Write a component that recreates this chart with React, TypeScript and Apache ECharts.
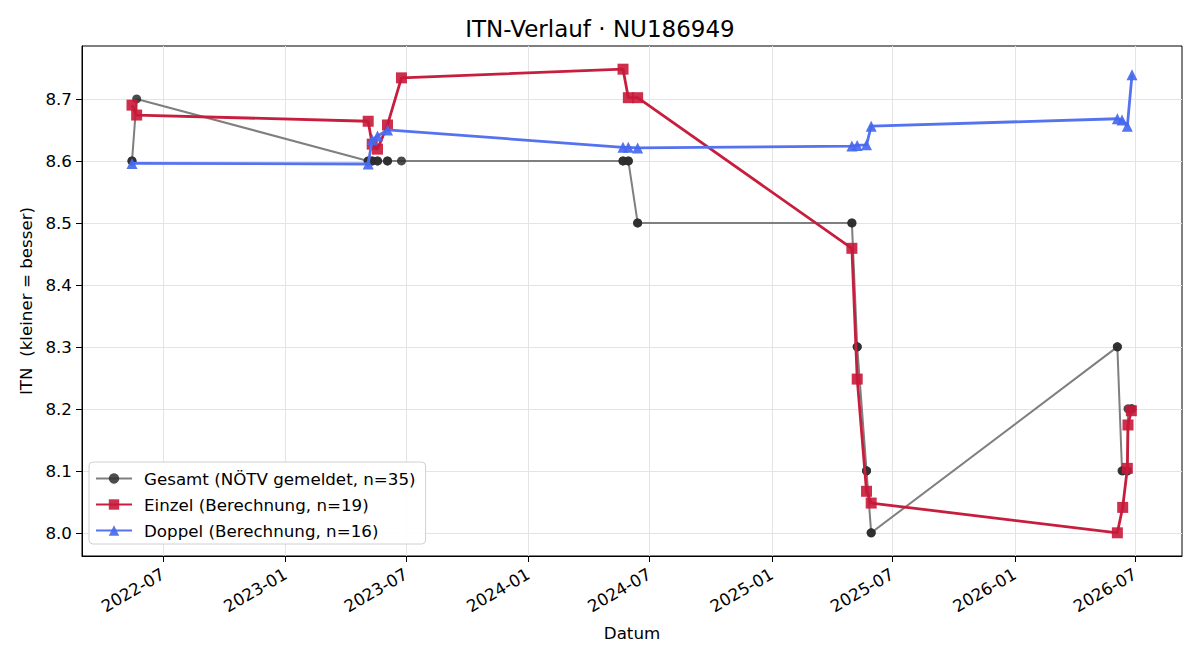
import { useEffect, useRef } from "react";
import * as echarts from "echarts";

// Einzel (singles) computed ITN values
const einzelDates = [
  "2022-05-15", "2022-05-22",
  "2023-05-05", "2023-05-11", "2023-05-19", "2023-06-03", "2023-06-24",
  "2024-05-22", "2024-05-30", "2024-06-13",
  "2025-05-01", "2025-05-09", "2025-05-23", "2025-05-30",
  "2026-06-04", "2026-06-12", "2026-06-19", "2026-06-20", "2026-06-25",
];
const einzelValues = [
  8.69, 8.674,
  8.664, 8.627, 8.619, 8.658, 8.734,
  8.748, 8.702, 8.702,
  8.459, 8.248, 8.067, 8.048,
  8.0, 8.041, 8.104, 8.174, 8.197,
];

// Doppel (doubles) computed ITN values
const doppelDates = [
  "2022-05-15",
  "2023-05-05", "2023-05-11", "2023-05-19", "2023-06-03",
  "2024-05-22", "2024-05-30", "2024-06-13",
  "2025-05-01", "2025-05-09", "2025-05-23", "2025-05-30",
  "2026-06-04", "2026-06-11", "2026-06-19", "2026-06-26",
];
const doppelValues = [
  8.596,
  8.595, 8.634, 8.64, 8.65,
  8.622, 8.622, 8.621,
  8.624, 8.625, 8.626, 8.656,
  8.668, 8.666, 8.656, 8.739,
];

// Gesamt (officially reported ITN), one entry per match
const gesamtDates = [
  "2022-05-15", "2022-05-15", "2022-05-22",
  "2023-05-05", "2023-05-05", "2023-05-11", "2023-05-11", "2023-05-19", "2023-05-19",
  "2023-06-03", "2023-06-03", "2023-06-24",
  "2024-05-22", "2024-05-22", "2024-05-30", "2024-05-30", "2024-06-13", "2024-06-13",
  "2025-05-01", "2025-05-01", "2025-05-09", "2025-05-09", "2025-05-23", "2025-05-23",
  "2025-05-30", "2025-05-30",
  "2026-06-04", "2026-06-04", "2026-06-11", "2026-06-12", "2026-06-19", "2026-06-19",
  "2026-06-20", "2026-06-25", "2026-06-26",
];
const gesamtValues = [
  8.6, 8.6, 8.7,
  8.6, 8.6, 8.6, 8.6, 8.6, 8.6,
  8.6, 8.6, 8.6,
  8.6, 8.6, 8.6, 8.6, 8.5, 8.5,
  8.5, 8.5, 8.3, 8.3, 8.1, 8.1,
  8.0, 8.0,
  8.3, 8.3, 8.1, 8.1, 8.1, 8.1,
  8.2, 8.2, 8.2,
];

const xTickLabels = [
  "2022-07", "2023-01", "2023-07", "2024-01", "2024-07",
  "2025-01", "2025-07", "2026-01", "2026-07",
];
const yTickValues = [8.0, 8.1, 8.2, 8.3, 8.4, 8.5, 8.6, 8.7];

const FONT = "DejaVu Sans";
const GRID_COLOR = "#e4e4e4";

const toTs = (s: string) => {
  const [y, m, d] = s.split("-").map(Number);
  return Date.UTC(y, m - 1, d || 1);
};

const pairs = (dates: string[], values: number[]) =>
  dates.map((d, i) => [toTs(d), values[i]]);

export default function App() {
  const ref = useRef<HTMLDivElement>(null);

  useEffect(() => {
    if (!ref.current) return;
    const chart = echarts.init(ref.current, undefined, { renderer: "svg" });

    const allTs = [...gesamtDates, ...einzelDates, ...doppelDates].map(toTs);
    const tMin = Math.min(...allTs);
    const tMax = Math.max(...allTs);
    const tPad = (tMax - tMin) * 0.05;
    const allV = [...gesamtValues, ...einzelValues, ...doppelValues];
    const vMin = Math.min(...allV);
    const vMax = Math.max(...allV);
    const vPad = (vMax - vMin) * 0.05;

    const xTicks = xTickLabels.map(toTs);

    // light grid drawn beneath the data lines
    const gridLines = [
      ...xTicks.map((t) => ({ xAxis: t })),
      ...yTickValues.map((v) => ({ yAxis: v })),
    ];

    chart.setOption({
      animation: false,
      backgroundColor: "#fff",
      textStyle: { fontFamily: FONT },
      title: {
        text: "ITN-Verlauf · NU186949",
        left: "center",
        top: 12,
        textStyle: { fontFamily: FONT, fontSize: 23, fontWeight: "normal", color: "#000" },
      },
      grid: {
        left: 82,
        top: 46,
        right: 18,
        bottom: 104,
        show: true,
        borderColor: "#000",
        borderWidth: 1,
        backgroundColor: "transparent",
      },
      legend: {
        orient: "vertical",
        left: 89,
        top: 462,
        padding: [8, 10, 5, 6],
        itemGap: 9,
        itemWidth: 36,
        itemHeight: 13,
        z: 10,
        backgroundColor: "rgba(255,255,255,0.92)",
        borderColor: "#d0d0d0",
        borderWidth: 1,
        borderRadius: 4,
        textStyle: { fontFamily: FONT, fontSize: 16.7, color: "#000", padding: [0, 0, 0, 7] },
        data: [
          "Gesamt (NÖTV gemeldet, n=35)",
          "Einzel (Berechnung, n=19)",
          "Doppel (Berechnung, n=16)",
        ],
      },
      xAxis: {
        type: "value",
        min: tMin - tPad,
        max: tMax + tPad,
        name: "Datum",
        nameLocation: "middle",
        nameGap: 68,
        nameTextStyle: { fontFamily: FONT, fontSize: 16.7, color: "#000" },
        axisLine: { show: true, onZero: false, lineStyle: { color: "#000", width: 1 } },
        axisTick: { show: true, length: 6, customValues: xTicks, lineStyle: { color: "#000" } },
        axisLabel: {
          customValues: xTicks,
          rotate: 30,
          margin: 17,
          hideOverlap: false,
          showMinLabel: true,
          showMaxLabel: true,
          fontFamily: FONT,
          fontSize: 16.7,
          color: "#000",
          formatter: (v: number) => {
            const d = new Date(v);
            return `${d.getUTCFullYear()}-${String(d.getUTCMonth() + 1).padStart(2, "0")}`;
          },
        },
        splitLine: { show: false },
      },
      yAxis: {
        type: "value",
        min: vMin - vPad,
        max: vMax + vPad,
        name: "ITN  (kleiner = besser)",
        nameLocation: "middle",
        nameRotate: 90,
        nameGap: 47,
        nameTextStyle: { fontFamily: FONT, fontSize: 16.7, color: "#000" },
        axisLine: { show: true, onZero: false, lineStyle: { color: "#000", width: 1 } },
        axisTick: { show: true, length: 6, customValues: yTickValues, lineStyle: { color: "#000" } },
        axisLabel: {
          customValues: yTickValues,
          margin: 10,
          showMinLabel: true,
          showMaxLabel: true,
          fontFamily: FONT,
          fontSize: 16.7,
          color: "#000",
          formatter: (v: number) => v.toFixed(1),
        },
        splitLine: { show: false },
      },
      series: [
        {
          name: "grid",
          type: "line",
          data: [],
          silent: true,
          z: 0,
          markLine: {
            silent: true,
            z: 0,
            symbol: ["none", "none"],
            label: { show: false },
            lineStyle: { color: GRID_COLOR, width: 1, type: "solid" },
            emphasis: { disabled: true },
            animation: false,
            data: gridLines,
          },
        },
        {
          name: "Gesamt (NÖTV gemeldet, n=35)",
          type: "line",
          data: pairs(gesamtDates, gesamtValues),
          symbol: "circle",
          symbolSize: 9,
          showAllSymbol: true,
          lineStyle: { color: "#7f7f7f", width: 2 },
          itemStyle: { color: "rgba(45,45,45,0.85)", borderWidth: 0 },
          z: 2,
        },
        {
          name: "Einzel (Berechnung, n=19)",
          type: "line",
          data: pairs(einzelDates, einzelValues),
          symbol: "rect",
          symbolSize: 11,
          showAllSymbol: true,
          lineStyle: { color: "#C81E3E", width: 2.8 },
          itemStyle: { color: "rgba(200,24,56,0.9)", borderWidth: 0 },
          z: 3,
        },
        {
          name: "Doppel (Berechnung, n=16)",
          type: "line",
          data: pairs(doppelDates, doppelValues),
          symbol: "triangle",
          symbolSize: 11,
          showAllSymbol: true,
          lineStyle: { color: "#5573F0", width: 2.8 },
          itemStyle: { color: "rgba(70,104,238,0.92)", borderWidth: 0 },
          z: 4,
        },
      ],
    });

    return () => chart.dispose();
  }, []);

  return (
    <div
      ref={ref}
      style={{ position: "fixed", left: 0, top: 0, width: 1200, height: 660 }}
    />
  );
}
